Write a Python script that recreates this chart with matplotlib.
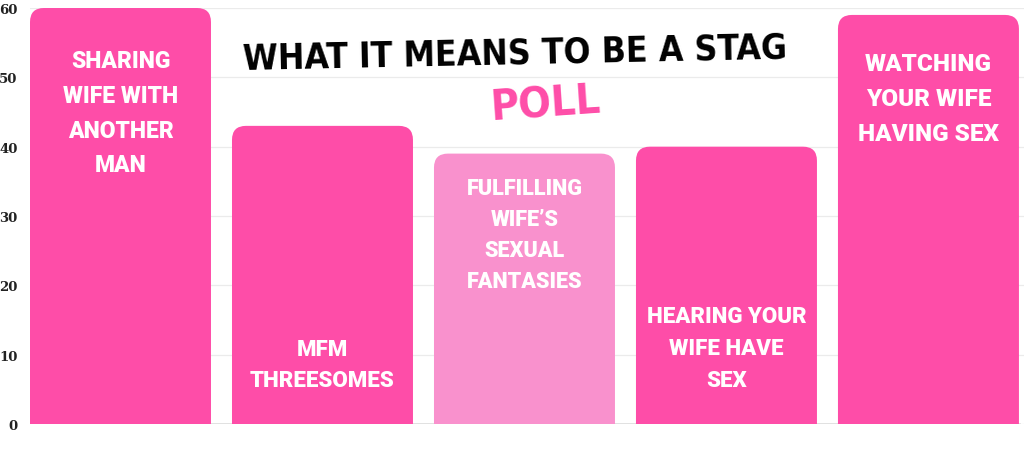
import matplotlib
matplotlib.use("Agg")
import matplotlib.pyplot as plt
from matplotlib.path import Path
from matplotlib.patches import PathPatch

# ---- data ----
categories = [
    "SHARING\nWIFE WITH\nANOTHER\nMAN",
    "MFM\nTHREESOMES",
    "FULFILLING\nWIFE\u2019S\nSEXUAL\nFANTASIES",
    "HEARING YOUR\nWIFE HAVE\nSEX",
    "WATCHING\nYOUR WIFE\nHAVING SEX",
]
values = [60, 43, 39, 40, 59]
yticks = [0, 10, 20, 30, 40, 50, 60]
title_text = "WHAT IT MEANS TO BE A STAG"
subtitle_text = "POLL"

# ---- style ----
bar_colors = ["#FE4DA8", "#FE4DA8", "#F991CD", "#FE4DA8", "#FE4DA8"]
label_y = [44.9, 8.6, 27.3, 11.0, 47.0]          # label centre (layout)
label_size = [16.5, 16, 15.6, 16, 17.5]
label_spacing = [1.65, 1.57, 1.52, 1.6, 1.67]

W, H = 1024, 452
fig = plt.figure(figsize=(W / 100, H / 100), dpi=100)
fig.patch.set_facecolor("white")
ax = fig.add_axes([30 / W, 1 - 425 / H, 994 / W, 416 / H])
ax.set_xlim(-0.448, 4.473)
ax.set_ylim(0, 60)

for s in ax.spines.values():
    s.set_visible(False)
ax.set_xticks([])
ax.set_yticks(yticks)
ax.tick_params(axis="y", length=0, pad=9, labelsize=9.5, labelcolor="#222222")
for t in ax.get_yticklabels():
    t.set_family("DejaVu Serif")
    t.set_fontweight("bold")
ax.grid(axis="y", color="#ebebeb", linewidth=0.9)
ax.set_axisbelow(True)
ax.axhline(0, color="#dcdcdc", linewidth=1.2, xmin=0, xmax=990 / 994, zorder=1)

bars = ax.bar(range(len(values)), values, width=0.896, color=bar_colors, zorder=2)

# rounded top corners
fig.canvas.draw()
bb = ax.get_window_extent()
xl, yl = ax.get_xlim(), ax.get_ylim()
r_px = 14
rx = r_px * (xl[1] - xl[0]) / bb.width
ry = r_px * (yl[1] - yl[0]) / bb.height
for b in bars:
    x0, y0, w, h = b.get_x(), b.get_y(), b.get_width(), b.get_height()
    x1, y1 = x0 + w, y0 + h
    verts = [(x0, y0), (x0, y1 - ry), (x0, y1), (x0 + rx, y1), (x1 - rx, y1),
             (x1, y1), (x1, y1 - ry), (x1, y0), (x0, y0)]
    codes = [Path.MOVETO, Path.LINETO, Path.CURVE3, Path.CURVE3, Path.LINETO,
             Path.CURVE3, Path.CURVE3, Path.LINETO, Path.CLOSEPOLY]
    ax.add_patch(PathPatch(Path(verts, codes), facecolor=b.get_facecolor(),
                           edgecolor="none", zorder=2))
    b.set_visible(False)

for i, lab in enumerate(categories):
    ax.text(i, label_y[i], lab, ha="center", va="center", color="white",
            fontsize=label_size[i], fontweight="heavy", family=["Roboto", "DejaVu Sans"],
            linespacing=label_spacing[i], zorder=3)

fig.text(515 / W, 1 - 54 / H, title_text, ha="center", va="center",
         fontsize=25.5, fontweight="bold", fontstretch="condensed", color="black",
         rotation=1.2, family="DejaVu Sans", zorder=5)
fig.text(546 / W, 1 - 105 / H, subtitle_text, ha="center", va="center",
         fontsize=31, fontweight="bold", fontstretch="condensed", color="#FE4DA8",
         rotation=4, family="DejaVu Sans", zorder=5)

fig.savefig("out.png", dpi=100, facecolor="white")
